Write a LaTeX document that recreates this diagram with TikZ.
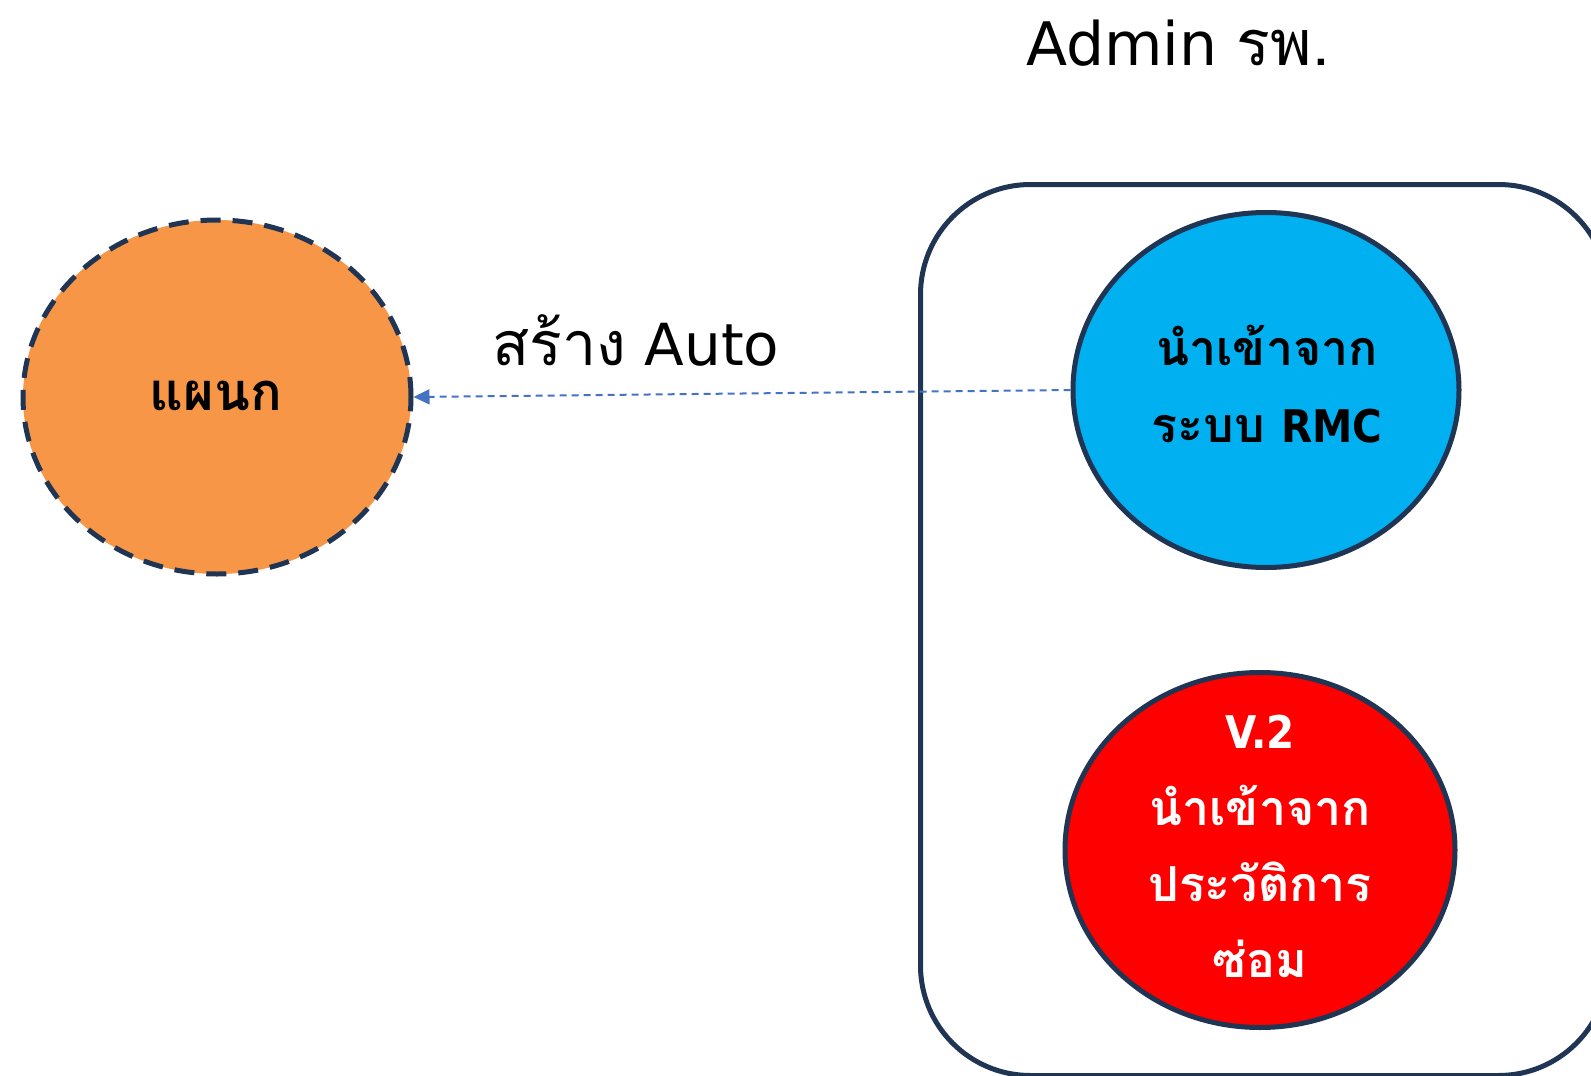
\documentclass[tikz,border=0pt]{standalone}
\usepackage{fontspec}
\setmainfont{DejaVu Sans}
\newfontfamily\thaifont[Script=Thai,Scale=1.05]{Loma}
\newfontfamily\condfont{DejaVu Sans Condensed}
\usetikzlibrary{shapes.geometric,arrows.meta}
\definecolor{navy}{HTML}{1F3553}
\definecolor{orangefill}{HTML}{F79646}
\definecolor{bluefill}{HTML}{00B0F0}
\definecolor{redfill}{HTML}{FF0000}
\definecolor{arrowblue}{HTML}{4472C4}
\tikzset{
  bubble/.style={ellipse, draw=navy, line width=5pt, inner sep=0pt},
  bigtxt/.style={anchor=base, inner sep=0pt, font=\fontsize{58}{68}\selectfont},
  intxt/.style={anchor=base, inner sep=0pt, font=\fontsize{46}{55}\selectfont\bfseries},
  autolink/.style={arrowblue, line width=2pt, dash pattern=on 7pt off 5pt, -{Triangle[length=16pt,width=15pt]}}
}
\newcommand{\latin}[1]{{\condfont\fontsize{45}{55}\selectfont\bfseries #1}}
\begin{document}
\begin{tikzpicture}[x=1pt,y=-1pt]
\useasboundingbox (0,0) rectangle (1591,1076);
\fill[white] (0,0) rectangle (1591,1076);
% container
\node[draw=navy, line width=5pt, rounded corners=110pt, minimum width=688pt, minimum height=891pt, inner sep=0pt, anchor=north west] (box) at (918,182) {};
% title
\node[bigtxt, font=\fontsize{60}{70}\selectfont] (title) at (1178,65) {Admin {\thaifont รพ.}};
% department bubble
\node[bubble, fill=orangefill, dash pattern=on 20pt off 12pt, minimum width=388pt, minimum height=354pt] (dept) at (217,397) {};
\node[intxt] (deptlbl) at (216,410) {{\thaifont\fontsize{50}{55}\selectfont แผนก}};
% RMC bubble
\node[bubble, fill=bluefill, minimum width=386pt, minimum height=355pt] (rmc) at (1266,390) {};
\node[intxt] (rmcA) at (1267,365) {\thaifont นำเข้าจาก};
\node[intxt] (rmcB) at (1267,442) {{\thaifont ระบบ} \latin{RMC}};
% V.2 bubble
\node[bubble, fill=redfill, minimum width=390pt, minimum height=355pt] (hist) at (1260,850) {};
\node[intxt, text=white] (histA) at (1260,748) {\latin{V.2}};
\node[intxt, text=white] (histB) at (1260,825) {\thaifont นำเข้าจาก};
\node[intxt, text=white] (histC) at (1260,901) {\thaifont ประวัติการ};
\node[intxt, text=white] (histD) at (1260,977) {\thaifont ซ่อม};
% connector
\draw[autolink] (rmc.west) -- (dept.east);
\node[bigtxt] (autolbl) at (636,365) {{\thaifont สร้าง} Auto};
\end{tikzpicture}
\end{document}
